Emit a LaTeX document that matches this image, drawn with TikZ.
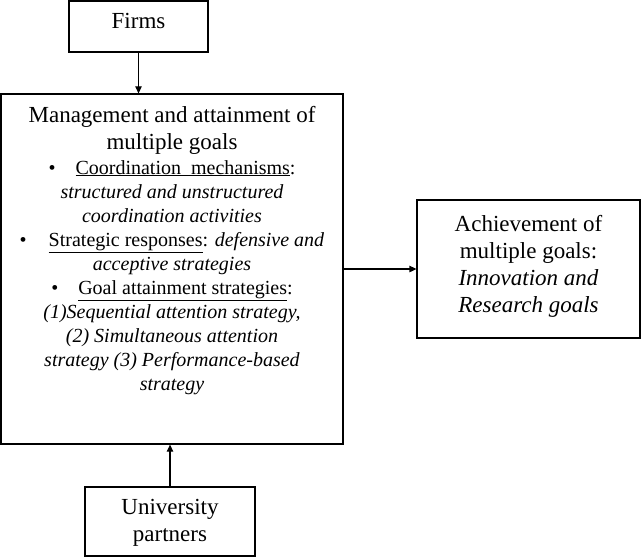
\documentclass[tikz,border=0pt]{standalone}
\usepackage{fontspec}
\setmainfont{Liberation Serif}
\usetikzlibrary{arrows.meta}
\begin{document}
\begin{tikzpicture}[x=1pt,y=-1pt,
  box/.style={draw,line width=1.3pt,inner sep=0pt},
  big/.style={font=\fontsize{23}{27}\selectfont,align=center,inner sep=0pt,anchor=north},
  small/.style={font=\fontsize{20}{24}\selectfont,align=center,inner sep=0pt,anchor=north},
  link/.style={line width=1.3pt,-{Triangle[length=7pt,width=6.5pt]}}]
\useasboundingbox (0,0) rectangle (642,559);

% boxes
\node[box,minimum width=139pt,minimum height=51pt] (firms) at (138.5,26.5) {};
\node[box,minimum width=342pt,minimum height=350pt] (main) at (172,269) {};
\node[box,minimum width=223pt,minimum height=138pt] (goals) at (528.5,269) {};
\node[box,minimum width=170pt,minimum height=69pt] (univ) at (170,521.5) {};

% texts
\node[big] (firmsT) at (138.5,13.3) {Firms};
\node[big] (mainT) at (172,106) {Management and attainment of\\ multiple goals};
\node[small] (mainL) at (172,160) {%
  •\hspace{20pt}\underline{Coordination\ \ mechanisms}:\\
  \textit{structured and unstructured}\\
  \textit{coordination activities}\\
  •\hspace{22pt}\underline{Strategic responses}: \textit{defensive and}\\
  \textit{acceptive strategies}\\
  •\hspace{20pt}\underline{Goal attainment strategies}:\\
  \textit{(1)Sequential attention strategy,}\\
  \textit{(2) Simultaneous attention}\\
  \textit{strategy (3) Performance-based}\\
  \textit{strategy}};
\node[big] (goalsT) at (528.5,215) {Achievement of\\ multiple goals:\\ \textit{Innovation and}\\ \textit{Research goals}};
\node[big] (univT) at (170,499.3) {University\\ partners};

% connectors
\draw[link] (firms.south) -- (firms.south |- main.north);
\draw[link] (univ.north) -- (univ.north |- main.south);
\draw[link] (main.east |- goals.west) -- (goals.west);
\end{tikzpicture}
\end{document}
